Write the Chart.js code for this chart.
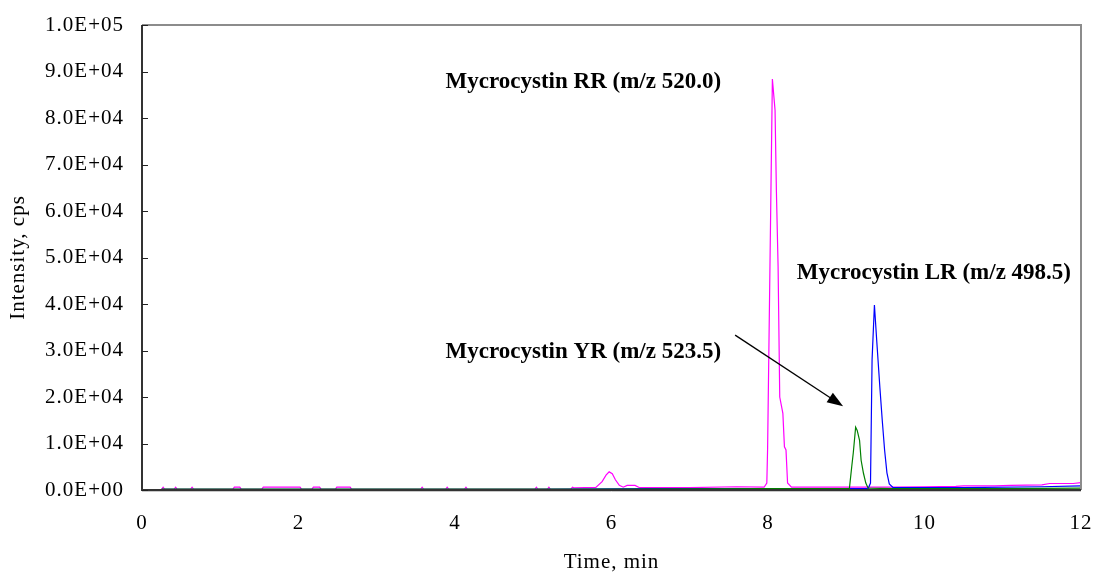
<!DOCTYPE html>
<html>
<head>
<meta charset="utf-8">
<script src="https://cdn.jsdelivr.net/npm/chart.js@4"></script>
<style>
  body { margin: 0; background: #fff; }
  #wrap { width: 1093px; height: 573px; }
</style>
</head>
<body>
<div id="wrap"><canvas id="myChart"></canvas></div>
<script>
// Retention times (min) and intensities (cps)
const rrTime = [
  0.25, 0.27, 0.29, 0.41, 0.43, 0.45, 0.62, 0.64, 0.66,
  1.16, 1.18, 1.25, 1.27, 1.53, 1.55, 2.02, 2.04,
  2.17, 2.19, 2.27, 2.29, 2.47, 2.49, 2.66, 2.68,
  3.56, 3.58, 3.60, 3.88, 3.90, 3.92, 4.12, 4.14, 4.16,
  5.02, 5.04, 5.06, 5.18, 5.20, 5.22, 5.48, 5.50, 5.52,
  5.80, 5.88, 5.93, 5.97, 6.01, 6.05, 6.10, 6.15, 6.20, 6.30, 6.36, 7.00, 7.60, 7.95,
  7.985, 7.995, 8.056, 8.09, 8.107, 8.129, 8.15, 8.19, 8.21, 8.23, 8.25, 8.30,
  9.00, 9.60, 10.00, 10.40, 10.50, 10.90, 11.10, 11.50, 11.60, 11.90, 12.00];
const rrIntensity = [
  150, 600, 150, 150, 600, 150, 150, 600, 150,
  150, 600, 600, 150, 150, 600, 600, 150,
  150, 600, 600, 150, 150, 600, 600, 150,
  150, 600, 150, 150, 600, 150, 150, 600, 150,
  150, 600, 150, 150, 600, 150, 150, 600, 450,
  550, 1800, 3200, 3900, 3500, 2200, 1000, 600, 1000, 1000, 500, 500, 700, 600,
  1500, 9000, 88400, 81700, 64500, 48000, 20000, 16500, 9300, 8600, 1500, 600,
  600, 600, 700, 800, 900, 900, 1000, 1100, 1400, 1400, 1600];

const yrTime = [0.25, 3.0, 6.0, 8.0, 9.04, 9.07, 9.09, 9.12, 9.14, 9.17, 9.19, 9.22, 9.25, 9.28, 9.6, 10.5, 11.0, 11.5, 12.0];
const yrIntensity = [200, 200, 200, 300, 300, 5000, 8000, 13500, 12800, 10700, 6400, 3600, 1500, 400, 300, 300, 300, 350, 400];

const lrTime = [0.25, 5.0, 6.5, 7.5, 9.28, 9.31, 9.33, 9.36, 9.39, 9.43, 9.46, 9.49, 9.52, 9.55, 9.60, 10.5, 11.5, 12.0];
const lrIntensity = [150, 150, 300, 300, 300, 1500, 28000, 39800, 32000, 22000, 15000, 8600, 3700, 1300, 500, 500, 700, 900];

const serif = "'Liberation Serif', 'Times New Roman', serif";

// Function to pair times with intensities
function toPoints(times, values) {
  return times.map((t, i) => ({ x: t, y: values[i] }));
}

// 1.0E+05 style tick labels
function sciLabel(v) {
  const parts = Number(v).toExponential(1).split('e');
  const exp = parts[1];
  return parts[0] + 'E' + exp[0] + exp.slice(1).padStart(2, '0');
}

// Peak labels and arrow, placed in data coordinates
const notes = [
  { text: 'Mycrocystin RR (m/z 520.0)', x: 5.64, y: 87700 },
  { text: 'Mycrocystin LR (m/z 498.5)', x: 10.12, y: 46700 },
  { text: 'Mycrocystin YR (m/z 523.5)', x: 5.64, y: 29700 }
];
const arrow = { x1: 7.58, y1: 33300, x2: 8.96, y2: 18000 };

// the axis text in the original is a little spaced out
const spacingPlugin = {
  id: 'spacing',
  beforeDraw(chart) {
    chart.ctx.letterSpacing = '1px';
  }
};

const framePlugin = {
  id: 'frame',
  afterDatasetsDraw(chart) {
    const { ctx, chartArea: a, scales } = chart;
    const xs = scales.x, ys = scales.y;
    ctx.save();

    // plot frame: light top/right, dark left/bottom
    ctx.lineWidth = 2;
    ctx.strokeStyle = '#8c8c8c';
    ctx.beginPath();
    ctx.moveTo(a.left, a.top);
    ctx.lineTo(a.right, a.top);
    ctx.lineTo(a.right, a.bottom);
    ctx.stroke();
    ctx.strokeStyle = '#333';
    ctx.beginPath();
    ctx.moveTo(a.left, a.top);
    ctx.lineTo(a.left, a.bottom);
    ctx.lineTo(a.right, a.bottom);
    ctx.stroke();
    ctx.strokeStyle = '#c8c8c8';
    ctx.lineWidth = 1;
    ctx.beginPath();
    ctx.moveTo(a.left, a.bottom + 1.5);
    ctx.lineTo(a.right, a.bottom + 1.5);
    ctx.stroke();

    // inward tick marks on the y axis
    ctx.strokeStyle = '#222';
    ctx.lineWidth = 1;
    ys.ticks.forEach(t => {
      const py = Math.round(ys.getPixelForValue(t.value)) + 0.5;
      ctx.beginPath();
      ctx.moveTo(a.left, py);
      ctx.lineTo(a.left + 6, py);
      ctx.stroke();
    });

    // labels
    ctx.letterSpacing = '0px';
    ctx.fillStyle = '#000';
    ctx.font = 'bold 23px ' + serif;
    ctx.textAlign = 'center';
    ctx.textBaseline = 'middle';
    notes.forEach(n => {
      ctx.fillText(n.text, xs.getPixelForValue(n.x), ys.getPixelForValue(n.y));
    });

    // arrow
    const x1 = xs.getPixelForValue(arrow.x1), y1 = ys.getPixelForValue(arrow.y1);
    const x2 = xs.getPixelForValue(arrow.x2), y2 = ys.getPixelForValue(arrow.y2);
    const ang = Math.atan2(y2 - y1, x2 - x1);
    const head = 17, wing = 0.34;
    ctx.strokeStyle = '#000';
    ctx.lineWidth = 1.3;
    ctx.beginPath();
    ctx.moveTo(x1, y1);
    ctx.lineTo(x2 - head * 0.8 * Math.cos(ang), y2 - head * 0.8 * Math.sin(ang));
    ctx.stroke();
    ctx.beginPath();
    ctx.moveTo(x2, y2);
    ctx.lineTo(x2 - head * Math.cos(ang - wing), y2 - head * Math.sin(ang - wing));
    ctx.lineTo(x2 - head * Math.cos(ang + wing), y2 - head * Math.sin(ang + wing));
    ctx.closePath();
    ctx.fill();
    ctx.restore();
  }
};

const ctx = document.getElementById('myChart').getContext('2d');

new Chart(ctx, {
  type: 'line',
  data: {
    datasets: [
      { label: 'Mycrocystin YR', data: toPoints(yrTime, yrIntensity), borderColor: '#008000' },
      { label: 'Mycrocystin LR', data: toPoints(lrTime, lrIntensity), borderColor: '#0000ff' },
      { label: 'Mycrocystin RR', data: toPoints(rrTime, rrIntensity), borderColor: '#ff00ff' }
    ]
  },
  options: {
    responsive: true,
    maintainAspectRatio: false,
    animation: false,
    layout: { padding: { left: 0, top: 25, right: 12, bottom: 0 } },
    elements: {
      point: { radius: 0 },
      line: { borderWidth: 1.2, tension: 0, fill: false }
    },
    plugins: {
      legend: { display: false },
      tooltip: { enabled: false }
    },
    scales: {
      x: {
        type: 'linear',
        min: 0,
        max: 12,
        grid: { display: false, drawTicks: false },
        border: { display: false },
        ticks: {
          stepSize: 2,
          padding: 21,
          color: '#000',
          font: { family: serif, size: 21 }
        },
        title: {
          display: true,
          text: 'Time, min',
          color: '#000',
          padding: { top: 0, bottom: 0 },
          font: { family: serif, size: 21, lineHeight: 1 }
        },
        afterFit(scale) {
          scale.height = 83;
          scale.paddingLeft = 0;
          scale.paddingRight = 0;
        }
      },
      y: {
        min: 0,
        max: 100000,
        grid: { display: false, drawTicks: false },
        border: { display: false },
        ticks: {
          stepSize: 10000,
          padding: 18,
          color: '#000',
          font: { family: serif, size: 21 },
          callback: v => sciLabel(v)
        },
        title: {
          display: true,
          text: 'Intensity, cps',
          color: '#000',
          padding: { top: 8, bottom: 0 },
          font: { family: serif, size: 21, lineHeight: 1 }
        },
        afterFit(scale) {
          scale.width = 142;
          scale.paddingTop = 0;
          scale.paddingBottom = 0;
        }
      }
    }
  },
  plugins: [spacingPlugin, framePlugin]
});
</script>
</body>
</html>
